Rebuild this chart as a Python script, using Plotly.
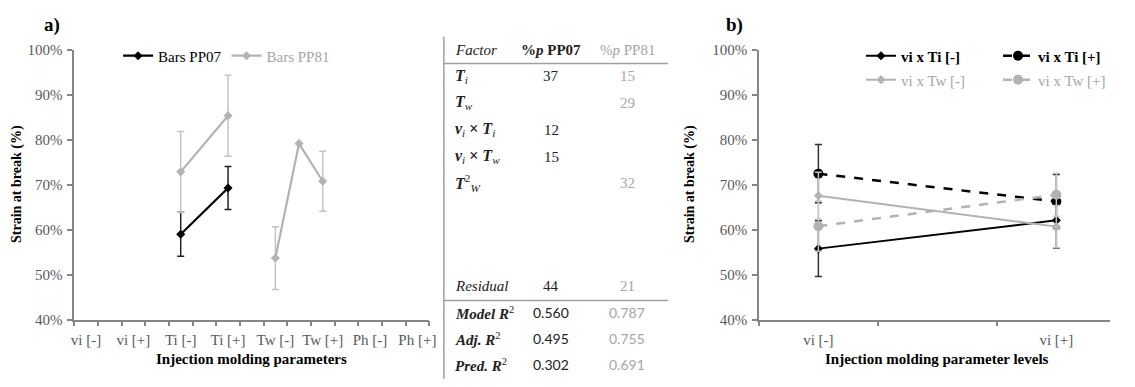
import plotly.graph_objects as go

# ---------------- data ----------------
# panel a: parameter levels on the category axis (one blank slot between levels)
levels_a = ["vi [-]", "vi [+]", "Ti [-]", "Ti [+]", "Tw [-]", "Tw [+]", "Ph [-]", "Ph [+]"]

pp07_levels = ["Ti [-]", "Ti [+]"]
pp07_strain = [59.0, 69.3]
pp07_err = [4.9, 4.8]

pp81_ti_levels = ["Ti [-]", "Ti [+]"]
pp81_ti_strain = [72.9, 85.4]
pp81_ti_err = [9.0, 9.0]

# the Tw group carries an extra point on the slot between Tw [-] and Tw [+]
pp81_tw_levels = ["Tw [-]", "Tw [-] | Tw [+]", "Tw [+]"]
pp81_tw_strain = [53.7, 79.2, 70.8]
pp81_tw_err = [7.0, None, 6.7]

# ANOVA table
factors = ["<b><i>T</i></b><sub><i>i</i></sub>",
           "<b><i>T</i></b><sub><i>w</i></sub>",
           "<b><i>v</i></b><sub><i>i</i></sub><b> × <i>T</i></b><sub><i>i</i></sub>",
           "<b><i>v</i></b><sub><i>i</i></sub><b> × <i>T</i></b><sub><i>w</i></sub>",
           "<b><i>T</i></b><sup>2</sup><sub><i>W</i></sub>"]
pct_pp07 = ["37", "", "12", "15", ""]
pct_pp81 = ["15", "29", "", "", "32"]
residual_pp07 = "44"
residual_pp81 = "21"
stat_names = ["<b><i>Model R</i></b><sup>2</sup>",
              "<b><i>Adj. R</i></b><sup>2</sup>",
              "<b><i>Pred. R</i></b><sup>2</sup>"]
stat_pp07 = ["0.560", "0.495", "0.302"]
stat_pp81 = ["0.787", "0.755", "0.691"]

# panel b: interaction plot
levels_b = ["vi [-]", "vi [+]"]
ti_minus = [55.8, 62.1]
ti_minus_err = [6.2, 6.2]
ti_plus = [72.5, 66.3]
ti_plus_err = [6.5, 6.0]
tw_minus = [67.6, 60.7]
tw_minus_err = [5.2, 4.7]
tw_plus = [60.8, 67.8]
tw_plus_err = [5.6, 4.8]

# ---------------- styling ----------------
W, H = 1135, 387
BLACK = "#000000"
GRAY = "#B3B3B3"
AXIS = "#868686"
TICKTXT = "#595959"
SERIF = "'Liberation Serif', 'Times New Roman', 'DejaVu Serif', serif"
SANS = "Lato, 'Liberation Sans', sans-serif"


def fx(px):
    return px / W


def fy(py):
    return 1 - py / H


def slot(label):
    """Position of a level on the panel-a axis (blank slot between levels)."""
    if "|" in label:
        a, b = [s.strip() for s in label.split("|")]
        return (slot(a) + slot(b)) / 2
    return 2 * levels_a.index(label)


def err(vals, color, thick):
    return dict(type="data", array=[v if v is not None else float("nan") for v in vals],
                visible=True, color=color, thickness=thick, width=3.5)


fig = go.Figure()

# ---- panel a ----
fig.add_trace(go.Scatter(
    x=[slot(l) for l in pp07_levels], y=pp07_strain, name="Bars PP07",
    mode="lines+markers", line=dict(color=BLACK, width=2.2),
    marker=dict(symbol="diamond", size=7, color=BLACK),
    error_y=err(pp07_err, "#222222", 1.5), xaxis="x", yaxis="y", legend="legend"))
fig.add_trace(go.Scatter(
    x=[slot(l) for l in pp81_ti_levels], y=pp81_ti_strain,
    name="<span style='color:#A6A6A6'>Bars PP81</span>", legendgroup="pp81",
    mode="lines+markers", line=dict(color=GRAY, width=2.2),
    marker=dict(symbol="diamond", size=7, color=GRAY),
    error_y=err(pp81_ti_err, "#C4C4C4", 1.5), xaxis="x", yaxis="y", legend="legend"))
fig.add_trace(go.Scatter(
    x=[slot(l) for l in pp81_tw_levels], y=pp81_tw_strain, name="Bars PP81",
    legendgroup="pp81", showlegend=False,
    mode="lines+markers", line=dict(color=GRAY, width=2.2),
    marker=dict(symbol="diamond", size=7, color=GRAY),
    error_y=err(pp81_tw_err, "#C4C4C4", 1.5), xaxis="x", yaxis="y"))

# ---- panel b ----
xb = [2 * i for i in range(len(levels_b))]
fig.add_trace(go.Scatter(
    x=xb, y=ti_minus, name="<b>vi x Ti [-]</b>", mode="lines+markers",
    line=dict(color=BLACK, width=2), marker=dict(symbol="diamond", size=7, color=BLACK),
    error_y=err(ti_minus_err, "#333333", 1.5), xaxis="x2", yaxis="y2", legend="legend2"))
fig.add_trace(go.Scatter(
    x=xb, y=ti_plus, name="<b>vi x Ti [+]</b>", mode="lines+markers",
    line=dict(color=BLACK, width=2.5, dash="dash"), marker=dict(symbol="circle", size=10, color=BLACK),
    error_y=err(ti_plus_err, "#333333", 1.5), xaxis="x2", yaxis="y2", legend="legend2"))
fig.add_trace(go.Scatter(
    x=xb, y=tw_minus, name="vi x Tw [-]", mode="lines+markers",
    line=dict(color=GRAY, width=2), marker=dict(symbol="diamond", size=7, color=GRAY),
    error_y=err(tw_minus_err, "#C4C4C4", 1.5), xaxis="x2", yaxis="y2", legend="legend3"))
fig.add_trace(go.Scatter(
    x=xb, y=tw_plus, name="vi x Tw [+]", mode="lines+markers",
    line=dict(color=GRAY, width=2.5, dash="dash"), marker=dict(symbol="circle", size=10, color=GRAY),
    error_y=err(tw_plus_err, "#C4C4C4", 1.5), xaxis="x2", yaxis="y2", legend="legend3"))

# ---------------- axes ----------------
y_dom = [fy(325), fy(44)]
yax = dict(range=[40, 100], dtick=10, tick0=40, ticksuffix="%", showgrid=False, zeroline=False,
           showline=True, linecolor=AXIS, linewidth=1.5, ticks="outside", ticklen=5,
           tickcolor=AXIS, tickwidth=1.5, domain=y_dom, ticklabelstandoff=2,
           tickfont=dict(family=SERIF, size=15, color=TICKTXT))

n_slots_a = 2 * len(levels_a) - 1
fig.update_layout(
    xaxis=dict(domain=[fx(73), fx(437)], range=[-0.5, n_slots_a - 0.5],
               tickmode="array", tickvals=[slot(l) for l in levels_a], ticktext=levels_a,
               ticks="", showgrid=False, zeroline=False, showline=True, linecolor=AXIS, linewidth=1.5,
               tickfont=dict(family=SERIF, size=15, color=TICKTXT), ticklabelstandoff=6,
               minor=dict(tickmode="array", tickvals=[i - 0.5 for i in range(n_slots_a + 1)],
                          ticks="outside", ticklen=5, tickcolor=AXIS, tickwidth=1.5, showgrid=False),
               anchor="y"),
    yaxis=dict(yax, anchor="x"),
    xaxis2=dict(domain=[fx(775), 1.0], range=[-0.5, -0.5 + (1135 - 775) / 122.0],
                tickmode="array", tickvals=xb, ticktext=levels_b,
                ticks="", showgrid=False, zeroline=False, showline=True, linecolor=AXIS, linewidth=1.5,
                tickfont=dict(family=SERIF, size=15, color=TICKTXT), ticklabelstandoff=6,
                minor=dict(tickmode="array", tickvals=[-0.5, 0.5, 1.5, 2.5],
                           ticks="outside", ticklen=5, tickcolor=AXIS, tickwidth=1.5, showgrid=False),
                anchor="y2"),
    yaxis2=dict(yax, anchor="x2"),
)

# ---------------- legends ----------------
leg_common = dict(orientation="h", bgcolor="rgba(0,0,0,0)", xanchor="left", yanchor="middle",
                  itemwidth=30, tracegroupgap=0, traceorder="normal")
fig.update_layout(
    showlegend=True,
    legend=dict(leg_common, x=fx(118), y=fy(50),
                font=dict(family=SERIF, size=15, color=BLACK)),
    legend2=dict(leg_common, x=fx(880), y=fy(50), entrywidth=92, entrywidthmode="pixels",
                 font=dict(family=SERIF, size=15, color=BLACK)),
    legend3=dict(leg_common, x=fx(880), y=fy(75), entrywidth=92, entrywidthmode="pixels",
                 font=dict(family=SERIF, size=15, color="#A6A6A6")),
)

# ---------------- text ----------------
ann = []


def text(px, py, s, size=15, color=BLACK, xanchor="center", family=SERIF, angle=0):
    ann.append(dict(x=fx(px), y=fy(py), xref="paper", yref="paper", text=s, showarrow=False,
                    xanchor=xanchor, yanchor="middle", textangle=angle,
                    font=dict(family=family, size=size, color=color)))


text(50, 18, "<b>a)</b>", size=19)
text(750, 18, "<b>b)</b>", size=19)
text(15, 184, "<b>Strain at break (%)</b>", size=14, angle=-90)
text(705, 184, "<b>Strain at break (%)</b>", size=14, angle=-90)
text(255, 366, "<b>Injection molding parameters</b>", size=15)
text(958, 366, "<b>Injection molding parameter levels</b>", size=15)

# table
col_f, col_a, col_b = 461, 562, 640
text(col_f, 44, "<i>Factor</i>", xanchor="left", color="#222222")
text(col_a, 44, "<b>%<i>p</i> PP07</b>", color="#222222")
text(col_b, 44, "%<i>p</i> PP81", color="#A6A6A6")
row_y = [71, 99, 127, 155, 183]
for f, a, b, yy in zip(factors, pct_pp07, pct_pp81, row_y):
    text(col_f, yy, f, xanchor="left", color="#222222", size=16)
    if a:
        text(col_a, yy, a, color="#222222")
    if b:
        text(col_b, yy, b, color="#A6A6A6")
text(col_f, 290, "<i>Residual</i>", xanchor="left", color="#222222")
text(col_a, 290, residual_pp07, color="#222222")
text(col_b, 290, residual_pp81, color="#A6A6A6")
for s, a, b, yy in zip(stat_names, stat_pp07, stat_pp81, [318, 345, 372]):
    text(col_f, yy, s, xanchor="left", color="#222222")
    text(col_a, yy, a, color="#222222", family=SANS, size=14)
    text(col_b, yy, b, color="#A6A6A6", family=SANS, size=14)

shapes = [
    dict(type="line", xref="paper", yref="paper", x0=fx(452), x1=fx(452), y0=fy(30), y1=0,
         line=dict(color="#A0A0A0", width=1.5)),
    dict(type="line", xref="paper", yref="paper", x0=fx(452), x1=fx(682), y0=fy(58), y1=fy(58),
         line=dict(color="#A0A0A0", width=1.5)),
    dict(type="line", xref="paper", yref="paper", x0=fx(452), x1=fx(682), y0=fy(305), y1=fy(305),
         line=dict(color="#A0A0A0", width=1.5)),
]

fig.update_layout(annotations=ann, shapes=shapes, width=W, height=H,
                  margin=dict(l=0, r=0, t=0, b=0), paper_bgcolor="white", plot_bgcolor="white")

fig.write_html("out.html")
